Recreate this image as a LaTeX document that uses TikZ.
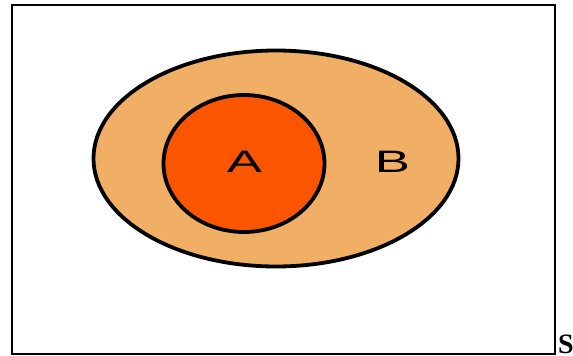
\documentclass[tikz,border=0pt]{standalone}
\usepackage{fontspec}
\setmainfont{Liberation Serif}
\newfontfamily\labfont{Liberation Sans}
\newfontfamily\sfontb{Liberation Serif Bold}
\definecolor{setB}{RGB}{240,175,100}
\definecolor{setA}{RGB}{252,85,0}
\begin{document}
\begin{tikzpicture}[x=1pt,y=-1pt,
  setlabel/.style={inner sep=0pt,font=\labfont\fontsize{31}{31}\selectfont},
  setshape/.style={draw=black,line width=3.8pt}]
\useasboundingbox (0,0) rectangle (573,356);
\node[draw=black,line width=2.2pt,minimum width=543pt,minimum height=349pt,inner sep=0pt,anchor=north west] (U) at (10.7,4) {};
\fill[setB,setshape] (276,158.5) ellipse [x radius=182.5, y radius=108];
\coordinate (Bc) at (276,158.5);
\fill[setA,setshape] (244,163.5) ellipse [x radius=80.5, y radius=68.5];
\coordinate (Ac) at (244,163.5);
\node[setlabel] (A) at (244.5,162) {\scalebox{1.7}[1]{A}};
\node[setlabel] (B) at (392.5,161.5) {\scalebox{1.7}[1]{B}};
\node[inner sep=0pt,anchor=base west,font=\sfontb\fontsize{28}{28}\selectfont] (S) at (558,353.5) {S};
\end{tikzpicture}
\end{document}
